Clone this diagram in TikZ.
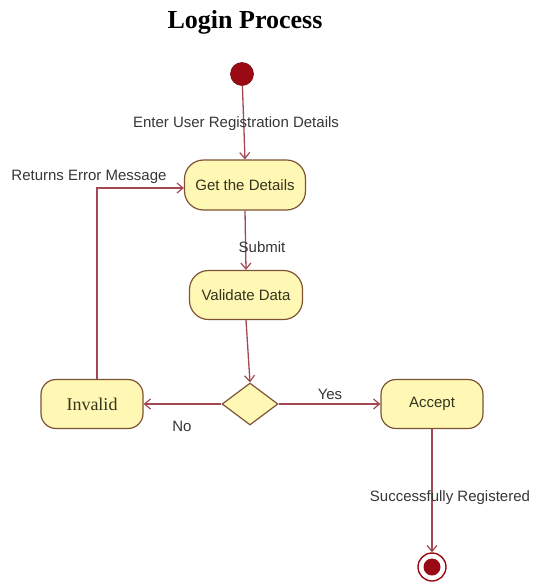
\documentclass[tikz,border=0pt]{standalone}
\usepackage{fontspec}
\setmainfont{Liberation Sans}
\newfontfamily\titleserif{Liberation Serif}
\usetikzlibrary{arrows.meta,shapes.geometric,calc}

\definecolor{flowline}{HTML}{A24852}
\definecolor{actborder}{HTML}{7E5234}
\definecolor{actfill}{HTML}{FFF8B4}
\definecolor{acttext}{HTML}{34341E}
\definecolor{labeltext}{HTML}{363636}
\definecolor{dotred}{HTML}{9A0A14}

\tikzset{
  activity/.style={draw=actborder, line width=1.2pt, fill=actfill,
    rounded corners=19pt, minimum width=121pt, minimum height=50pt,
    inner sep=0pt, text=acttext, font=\fontsize{15}{18}\selectfont},
  smallact/.style={activity, rounded corners=15pt, minimum width=102pt,
    minimum height=49pt},
  decision/.style={draw=actborder, line width=1.2pt, fill=actfill,
    diamond, aspect=1.33, minimum width=56pt, minimum height=42pt, inner sep=0pt},
  flow/.style={draw=flowline, line width=1.3pt,
    -{Straight Barb[length=6pt,width=10pt,line width=1.2pt]}},
  flowlabel/.style={text=labeltext, font=\fontsize{15}{18}\selectfont, inner sep=0pt},
}

\begin{document}
\begin{tikzpicture}[x=1pt, y=-1pt]
  \useasboundingbox (0,0) rectangle (533,584);

  % heading
  \node[font=\titleserif\bfseries\fontsize{26}{30}\selectfont] (title) at (245,22) {Login Process};

  % start and end points
  \node[circle, fill=dotred, draw=dotred!80!black, line width=0.6pt,
        minimum size=23pt, inner sep=0pt] (start) at (242,74) {};
  \node[circle, draw=dotred, line width=1.4pt, fill=white,
        minimum size=28pt, inner sep=0pt] (final) at (432,567) {};
  \node[circle, fill=dotred, minimum size=17pt, inner sep=0pt] (finaldot) at (final) {};

  % activities
  \node[activity] (gtd) at (245,185) {Get the Details};
  \node[activity, minimum width=113pt, minimum height=49pt] (vd) at (246,295) {Validate Data};
  \node[smallact, font=\titleserif\fontsize{18}{20}\selectfont] (inv) at (92,404) {Invalid};
  \node[smallact] (acc) at (432,404) {Accept};
  \node[decision] (dia) at (250,404) {};

  % transitions
  \draw[flow] (start) -- (gtd.north);
  \node[flowlabel] (lblenter) at (236,124) {Enter User Registration Details};

  \draw[flow] (gtd.south) -- (vd.north);
  \node[flowlabel] (lblsubmit) at (262,247) {Submit};

  \draw[flow] (vd.south) -- (dia.north);

  \draw[flow] (dia.west) -- (inv.east);
  \node[flowlabel] (lblno) at (182,426) {No};

  \draw[flow] (dia.east) -- (acc.west);
  \node[flowlabel] (lblyes) at (330,394) {Yes};

  \coordinate (ret) at (97,188);
  \draw[flow] (inv.north -| ret) -- (ret) -- (ret -| gtd.west);
  \node[flowlabel] (lblerr) at (89,177) {Returns Error Message};

  \draw[flow] (acc.south) -- (final.north);
  \node[flowlabel] (lblok) at (450,498) {Successfully Registered};
\end{tikzpicture}
\end{document}
